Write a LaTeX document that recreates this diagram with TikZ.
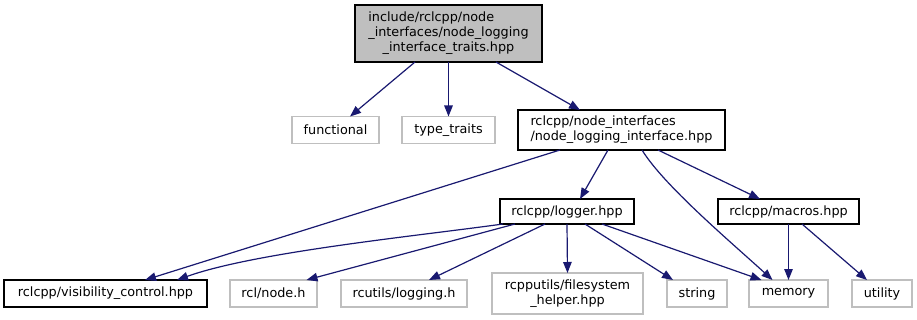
\documentclass[tikz,border=0pt]{standalone}
\usepackage{fontspec}
\setmainfont{DejaVu Sans}
\usetikzlibrary{arrows.meta,calc}
\definecolor{edgeblue}{HTML}{191970}
\definecolor{extgray}{HTML}{BFBFBF}
\begin{document}
\begin{tikzpicture}[x=1pt,y=-1pt,
  every node/.style={font=\fontsize{12.8}{15}\selectfont, inner sep=0pt, outer sep=0pt},
  docbox/.style={draw=black, line width=1.3pt, fill=white},
  extbox/.style={draw=extgray, line width=1.3pt, fill=white},
  rootbox/.style={draw=black, line width=1.3pt, fill=extgray},
  dep/.style={draw=edgeblue, line width=1.2pt, -{Triangle[length=11pt,width=8.5pt]}}
]
\useasboundingbox (0,0) rectangle (917,320);

% header under inspection (first line flush with the second)
\node[rootbox, minimum width=187pt, minimum height=57pt, align=center] (root) at (448.5,33.5)
  {\rlap{include/rclcpp/node}\hphantom{\_interfaces/node\_logging}\\\_interfaces/node\_logging\\\_interface\_traits.hpp};

% second row
\node[extbox, minimum width=87pt, minimum height=27pt] (functional) at (335.5,130) {functional};
\node[extbox, minimum width=93pt, minimum height=27pt] (typetraits) at (448.5,130) {type\_traits};
\node[docbox, minimum width=207pt, minimum height=40pt, align=left] (nli) at (621.5,130)
  {rclcpp/node\_interfaces\\/node\_logging\_interface.hpp};

% third row
\node[docbox, minimum width=134pt, minimum height=25pt] (logger) at (567,211.5) {rclcpp/logger.hpp};
\node[docbox, minimum width=141pt, minimum height=25pt] (macros) at (788.5,211.5) {rclcpp/macros.hpp};

% bottom row
\node[docbox, minimum width=203pt, minimum height=27pt] (vis) at (105.5,293.5) {rclcpp/visibility\_control.hpp};
\node[extbox, minimum width=87pt, minimum height=27pt] (rclnode) at (273.5,293.5) {rcl/node.h};
\node[extbox, minimum width=126pt, minimum height=27pt] (rcutils) at (404,293.5) {rcutils/logging.h};
\node[extbox, minimum width=151pt, minimum height=41pt, align=center] (fshelper) at (567.5,293.5)
  {rcpputils/filesystem\\\_helper.hpp};
\node[extbox, minimum width=60pt, minimum height=27pt] (string) at (697,293.5) {string};
\node[extbox, minimum width=79pt, minimum height=27pt] (memory) at (788.5,293.5) {memory};
\node[extbox, minimum width=60pt, minimum height=27pt] (utility) at (882,293.5) {utility};

% include edges
\draw[dep] ($(root.south)+(-33.5,0)$) -- ($(functional.north)+(14.5,0)$);
\draw[dep] (root.south) -- (typetraits.north);
\draw[dep] ($(root.south)+(47.5,0)$) -- ($(nli.north)+(-41.5,0)$);

\draw[dep] ($(nli.south)+(-61.5,0)$) -- ($(vis.north)+(39.5,0)$);
\draw[dep] ($(nli.south)+(-13.5,0)$) -- ($(logger.north)+(13,0)$);
\draw[dep] ($(nli.south)+(20.5,0)$) .. controls ($(nli.south)+(42,35)$) and ($(memory.north)+(-60,-40)$) .. ($(memory.north)+(-16,0)$);
\draw[dep] ($(nli.south)+(36.5,0)$) -- ($(macros.north)+(-28.5,0)$);

\draw[dep] ($(logger.south)+(-64,0)$) .. controls ($(logger.south)+(-150,12)$) and ($(vis.north)+(150,-28)$) .. ($(vis.north)+(71.5,0)$);
\draw[dep] ($(logger.south)+(-52,0)$) -- ($(rclnode.north)+(33,0)$);
\draw[dep] ($(logger.south)+(-22,0)$) -- ($(rcutils.north)+(25,0)$);
\draw[dep] (logger.south) -- (fshelper.north);
\draw[dep] ($(logger.south)+(18,0)$) -- ($(string.north)+(-24,0)$);
\draw[dep] ($(logger.south)+(35,0)$) -- ($(memory.north)+(-27,0)$);

\draw[dep] (macros.south) -- (memory.north);
\draw[dep] ($(macros.south)+(13.5,0)$) -- ($(utility.north)+(-15,0)$);
\end{tikzpicture}
\end{document}
